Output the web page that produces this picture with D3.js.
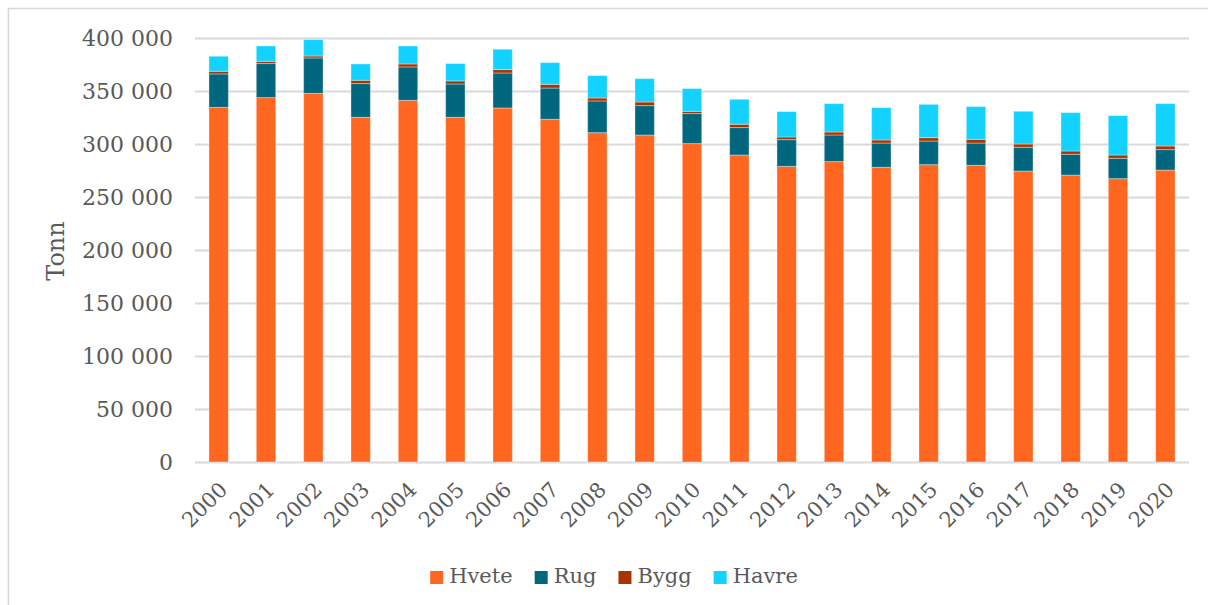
<!DOCTYPE html>
<html>
<head>
<meta charset="utf-8">
<script src="https://cdn.jsdelivr.net/npm/d3@7"></script>
<style>
  body { margin: 0; background: #fff; }
  svg text { font-family: 'DejaVu Serif', Georgia, serif; fill: #595959; }
</style>
</head>
<body>
<div id="vis"></div>
<script>
// values in thousand tonn
const years = ['2000', '2001', '2002', '2003', '2004', '2005', '2006', '2007', '2008', '2009', '2010',
  '2011', '2012', '2013', '2014', '2015', '2016', '2017', '2018', '2019', '2020'];
const hvete = [334.6, 343.8, 347.8, 325.2, 341.2, 325.2, 334.0, 323.3, 310.7, 308.5, 300.4,
  289.6, 278.9, 283.4, 278.0, 280.5, 279.9, 274.5, 270.7, 267.3, 275.4];
const rug = [31.5, 32.1, 33.4, 31.8, 31.5, 31.4, 33.0, 29.5, 29.9, 27.7, 28.3,
  25.9, 25.2, 25.1, 22.9, 22.3, 21.0, 22.4, 19.6, 19.2, 19.3];
const bygg = [2.5, 2.1, 1.8, 3.1, 2.8, 2.9, 3.2, 3.5, 2.8, 3.4, 2.1,
  3.1, 2.5, 2.8, 2.9, 3.2, 3.5, 3.1, 3.1, 3.1, 3.4];
const havre = [14.2, 14.5, 15.5, 15.4, 17.0, 16.4, 19.2, 20.5, 21.1, 22.1, 21.5,
  23.6, 24.0, 26.8, 30.5, 31.4, 30.9, 30.9, 36.2, 37.2, 40.0];
const seriesNames = ['Hvete', 'Rug', 'Bygg', 'Havre'];
const seriesColors = ['#ff6720', '#00677f', '#a83500', '#14d2ff'];
const yTicks = [0, 50000, 100000, 150000, 200000, 250000, 300000, 350000, 400000];

const width = 1208;
const height = 605;
const margin = { top: 38, right: 19, bottom: 143, left: 195 };

const svg = d3.select('#vis').append('svg')
  .attr('width', width)
  .attr('height', height);

// chart border (runs off the right/bottom edges)
svg.append('rect')
  .attr('x', 8.5).attr('y', 8.5)
  .attr('width', 1400).attr('height', 800)
  .attr('fill', 'none')
  .attr('stroke', '#d9d9d9')
  .attr('stroke-width', 1.5);

const x = d3.scaleBand()
  .domain(years)
  .range([margin.left, width - margin.right])
  .paddingInner(0.59)
  .paddingOuter(0.295);

const y = d3.scaleLinear()
  .domain([0, 400000])
  .range([height - margin.bottom, margin.top]);

const fmt = v => d3.format(',')(v).replace(/,/g, ' ');

// gridlines
svg.append('g')
  .selectAll('line')
  .data(yTicks)
  .join('line')
  .attr('x1', margin.left)
  .attr('x2', width - margin.right)
  .attr('y1', d => Math.round(y(d)) + 0.5)
  .attr('y2', d => Math.round(y(d)) + 0.5)
  .attr('stroke', '#d9d9d9')
  .attr('stroke-width', 2);

// y tick labels
svg.append('g')
  .selectAll('text')
  .data(yTicks)
  .join('text')
  .attr('x', 173)
  .attr('y', d => y(d))
  .attr('dy', '0.35em')
  .attr('text-anchor', 'end')
  .attr('font-size', 22)
  .text(fmt);

svg.append('text')
  .attr('transform', 'translate(64,251) rotate(-90)')
  .attr('text-anchor', 'middle')
  .attr('font-size', 24)
  .text('Tonn');

// stacked bars
const rows = years.map((yr, i) => ({
  year: yr,
  Hvete: hvete[i] * 1000,
  Rug: rug[i] * 1000,
  Bygg: bygg[i] * 1000,
  Havre: havre[i] * 1000
}));
const stacked = d3.stack().keys(seriesNames)(rows);

svg.append('g')
  .selectAll('g')
  .data(stacked)
  .join('g')
  .attr('fill', (d, i) => seriesColors[i])
  .selectAll('rect')
  .data(d => d)
  .join('rect')
  .attr('x', d => x(d.data.year))
  .attr('width', x.bandwidth())
  .attr('y', d => y(d[1]))
  .attr('height', d => y(d[0]) - y(d[1]))
  .attr('stroke', 'rgba(255,255,255,0.35)')
  .attr('stroke-width', 1);

// x labels, rotated
svg.append('g')
  .selectAll('text')
  .data(years)
  .join('text')
  .attr('transform', d => 'translate(' + (x(d) + x.bandwidth() / 2 + 10) + ',' + 491 + ') rotate(-45)')
  .attr('text-anchor', 'end')
  .attr('font-size', 21)
  .text(d => d);

// legend
const legend = svg.append('g');
const items = legend.selectAll('g')
  .data(seriesNames)
  .join('g');
items.append('rect')
  .attr('width', 13)
  .attr('height', 13)
  .attr('y', -12)
  .attr('fill', (d, i) => seriesColors[i]);
items.append('text')
  .attr('x', 19)
  .attr('font-size', 21)
  .text(d => d);

let offset = 0;
const positions = [];
items.each(function() {
  positions.push(offset);
  const w = this.querySelector('text').getComputedTextLength();
  offset += 19 + w + 22;
});
const totalW = offset - 22;
const startX = 614 - totalW / 2;
items.attr('transform', (d, i) => 'translate(' + (startX + positions[i]) + ',583)');
</script>
</body>
</html>
